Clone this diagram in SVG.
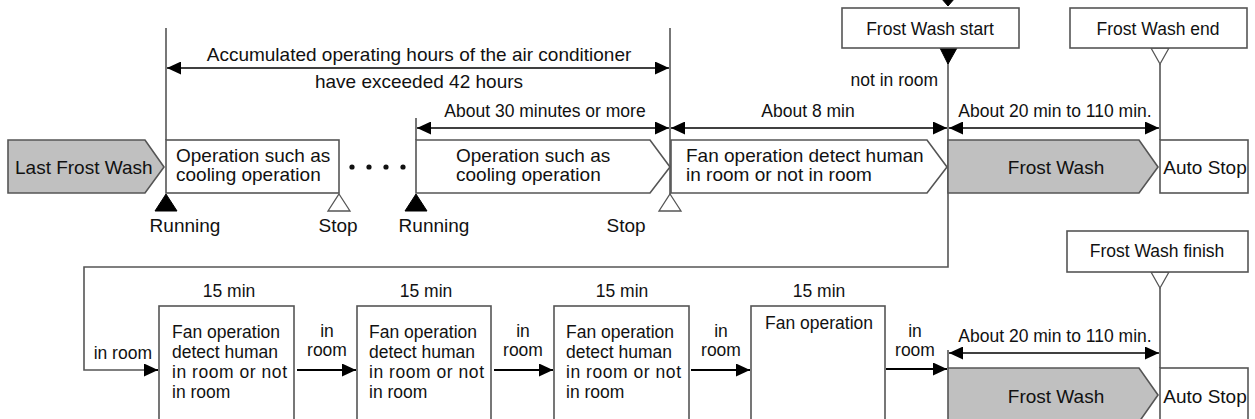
<svg xmlns="http://www.w3.org/2000/svg" width="1255" height="419" viewBox="0 0 1255 419">
<style>
text{font-family:"Liberation Sans",Arial,sans-serif;font-size:17.5px;fill:#111}
.L{font-size:19px}
.c{text-anchor:middle}
.e{text-anchor:end}
.box{fill:#fff;stroke:#555;stroke-width:1.6}
.gray{fill:#c0c0c0;stroke:#555;stroke-width:1.6}
.ext{fill:none;stroke:#555;stroke-width:1.6}
.dim{fill:none;stroke:#000;stroke-width:1.6}
.flow{fill:none;stroke:#000;stroke-width:2}
.tf{fill:#000;stroke:#000;stroke-width:1}
.to{fill:#fff;stroke:#555;stroke-width:1.3}
</style>
<defs>
<marker id="ah" markerUnits="userSpaceOnUse" markerWidth="14" markerHeight="13" refX="14" refY="6.5" orient="auto-start-reverse" viewBox="0 0 14 13">
<path d="M0,0 L14,6.5 L0,13 z" fill="#000"/>
</marker>
</defs>

<g id="connectors">
<line class="ext" x1="166" y1="28" x2="166" y2="140"/>
<line class="ext" x1="416" y1="118" x2="416" y2="140"/>
<line class="ext" x1="670" y1="28" x2="670" y2="195"/>
<line class="ext" x1="1160" y1="64" x2="1160" y2="140"/>
<polyline class="ext" points="948,62 948,267 84,267 84,370 145,370"/>
<line class="ext" x1="948" y1="350" x2="948" y2="368"/>
<line class="ext" x1="1160" y1="288" x2="1160" y2="368"/>
<line class="dim" x1="167" y1="68" x2="669" y2="68" marker-start="url(#ah)" marker-end="url(#ah)"/>
<line class="dim" x1="417" y1="128" x2="669" y2="128" marker-start="url(#ah)" marker-end="url(#ah)"/>
<line class="dim" x1="671" y1="128" x2="947" y2="128" marker-start="url(#ah)" marker-end="url(#ah)"/>
<line class="dim" x1="949" y1="128" x2="1159" y2="128" marker-start="url(#ah)" marker-end="url(#ah)"/>
<line class="dim" x1="949" y1="353" x2="1159" y2="353" marker-start="url(#ah)" marker-end="url(#ah)"/>
<line class="flow" x1="144" y1="370" x2="158" y2="370" marker-end="url(#ah)"/>
<line class="flow" x1="297" y1="370" x2="356" y2="370" marker-end="url(#ah)"/>
<line class="flow" x1="494" y1="370" x2="553" y2="370" marker-end="url(#ah)"/>
<line class="flow" x1="691" y1="370" x2="750" y2="370" marker-end="url(#ah)"/>
<line class="flow" x1="886" y1="369" x2="947" y2="369" marker-end="url(#ah)"/>
<polygon class="tf" points="941,-2 955,-2 948,6"/>
<polygon class="tf" points="940,48 957,48 948,64"/>
<polygon class="to" points="1151,48 1169,48 1160,64"/>
<polygon class="to" points="1151,272 1169,272 1160,288"/>
<polygon class="tf" points="166,194 177,211 155,211"/>
<polygon class="to" points="339,194 350,211 328,211"/>
<polygon class="tf" points="416,194 427,211 405,211"/>
<polygon class="to" points="670,194 681,211 659,211"/>
</g>

<g id="labels">
<text class="c L" x="419" y="61">Accumulated operating hours of the air conditioner</text>
<text class="c L" x="419" y="88">have exceeded 42 hours</text>
<text class="c" x="545" y="117">About 30 minutes or more</text>
<text class="c" x="808" y="117">About 8 min</text>
<text class="e" x="938" y="86">not in room</text>
<text class="c" x="1055" y="117">About 20 min to 110 min.</text>
<text class="c" x="1055" y="342">About 20 min to 110 min.</text>
<text class="c L" x="185" y="232">Running</text>
<text class="c L" x="338" y="232">Stop</text>
<text class="c L" x="434" y="232">Running</text>
<text class="c L" x="626" y="232">Stop</text>
<text class="e" x="152" y="359">in room</text>
<text class="c" x="327" y="337">in</text><text class="c" x="327" y="356">room</text>
<text class="c" x="523" y="337">in</text><text class="c" x="523" y="356">room</text>
<text class="c" x="721" y="337">in</text><text class="c" x="721" y="356">room</text>
<text class="c" x="915" y="337">in</text><text class="c" x="915" y="356">room</text>
<text class="c" x="229" y="297">15 min</text>
<text class="c" x="426" y="297">15 min</text>
<text class="c" x="622" y="297">15 min</text>
<text class="c" x="819" y="297">15 min</text>
<circle cx="352" cy="167" r="2.6" fill="#111"/>
<circle cx="369" cy="167" r="2.6" fill="#111"/>
<circle cx="386" cy="167" r="2.6" fill="#111"/>
<circle cx="403" cy="167" r="2.6" fill="#111"/>
</g>

<g id="node-last-frost-wash">
<polygon class="gray" points="8,140 145,140 164,167 145,193 8,193"/>
<text class="L" x="15" y="174">Last Frost Wash</text>
</g>
<g id="node-op1">
<rect class="box" x="166" y="140" width="173" height="53"/>
<text class="L" x="176" y="162">Operation such as</text>
<text class="L" x="176" y="181">cooling operation</text>
</g>
<g id="node-op2">
<polygon class="box" points="416,140 650,140 670,167 650,193 416,193"/>
<text class="L" x="456" y="162">Operation such as</text>
<text class="L" x="456" y="181">cooling operation</text>
</g>
<g id="node-fan1">
<polygon class="box" points="671,140 927,140 947,167 927,193 671,193"/>
<text class="L" x="686" y="162">Fan operation detect human</text>
<text class="L" x="686" y="181">in room or not in room</text>
</g>
<g id="node-frost-wash-1">
<polygon class="gray" points="948,140 1139,140 1158,167 1139,193 948,193"/>
<text class="c L" x="1056" y="174">Frost Wash</text>
</g>
<g id="node-auto-stop-1">
<rect class="box" x="1160" y="140" width="88" height="53"/>
<text class="c L" x="1205" y="174">Auto Stop</text>
</g>
<g id="node-frost-wash-start">
<rect class="box" x="842" y="8" width="177" height="40"/>
<text class="c" x="930" y="35">Frost Wash start</text>
</g>
<g id="node-frost-wash-end">
<rect class="box" x="1070" y="8" width="177" height="40"/>
<text class="c" x="1158" y="35">Frost Wash end</text>
</g>
<g id="node-fan-a">
<rect class="box" x="159" y="306" width="135" height="130"/>
<text x="172" y="338">Fan operation</text>
<text x="172" y="358">detect human</text>
<text x="172" y="378" textLength="115" lengthAdjust="spacing">in room or not</text>
<text x="172" y="398">in room</text>
</g>
<g id="node-fan-b">
<rect class="box" x="357" y="306" width="134" height="130"/>
<text x="369" y="338">Fan operation</text>
<text x="369" y="358">detect human</text>
<text x="369" y="378" textLength="115" lengthAdjust="spacing">in room or not</text>
<text x="369" y="398">in room</text>
</g>
<g id="node-fan-c">
<rect class="box" x="554" y="306" width="135" height="130"/>
<text x="566" y="338">Fan operation</text>
<text x="566" y="358">detect human</text>
<text x="566" y="378" textLength="115" lengthAdjust="spacing">in room or not</text>
<text x="566" y="398">in room</text>
</g>
<g id="node-fan-d">
<rect class="box" x="751" y="306" width="134" height="130"/>
<text x="765" y="329">Fan operation</text>
</g>
<g id="node-frost-wash-2">
<polygon class="gray" points="948,368 1139,368 1158,395 1139,422 948,422"/>
<text class="c L" x="1056" y="403">Frost Wash</text>
</g>
<g id="node-auto-stop-2">
<rect class="box" x="1160" y="368" width="88" height="60"/>
<text class="c L" x="1205" y="403">Auto Stop</text>
</g>
<g id="node-frost-wash-finish">
<rect class="box" x="1067" y="231" width="181" height="41"/>
<text class="c" x="1157" y="257">Frost Wash finish</text>
</g>
</svg>
